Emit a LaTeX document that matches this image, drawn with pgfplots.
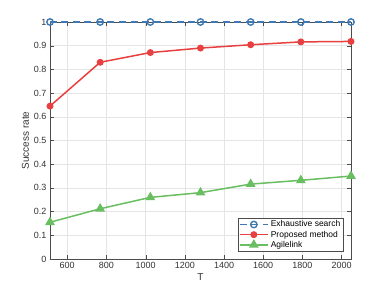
\documentclass[border=0pt]{standalone}
\usepackage{pgfplots}
\pgfplotsset{compat=1.18}
\usepackage{fontspec}
\setmainfont{Liberation Sans}
\definecolor{cblue}{RGB}{64,120,178}
\definecolor{cred}{RGB}{232,64,64}
\definecolor{cgreen}{RGB}{104,190,96}
\begin{document}
\begin{tikzpicture}
\begin{axis}[
  scale only axis, width=301pt, height=237pt,
  xmin=512, xmax=2048, ymin=0, ymax=1,
  xtick={600,800,1000,1200,1400,1600,1800,2000},
  ytick={0,0.1,0.2,0.3,0.4,0.5,0.6,0.7,0.8,0.9,1},
  yticklabels={0,0.1,0.2,0.3,0.4,0.5,0.6,0.7,0.8,0.9,1},
  /pgf/number format/assume math mode=true,
  /pgf/number format/set thousands separator={},
  tick label style={font=\fontsize{9}{10}\selectfont, text=black!80},
  label style={font=\fontsize{10}{11}\selectfont, text=black!80},
  xlabel={T}, ylabel={Success rate},
  xlabel style={yshift=2pt}, ylabel style={yshift=-2pt},
  grid=major, major grid style={black!10},
  tick align=inside, axis line style={black!70}, major tick style={black!70},
  legend style={font=\fontsize{8.5}{9}\selectfont, draw=black!70, at={(0.975,0.03)}, anchor=south east, inner sep=1pt, row sep=-1.5pt},
  legend cell align=left,
  legend image code/.code={\draw[mark repeat=2,mark phase=2] plot coordinates {(0cm,0cm) (0.5cm,0cm) (1.0cm,0cm)};},
]
\addplot[cblue, line width=1.5pt, dash pattern=on 7pt off 4.5pt, mark=o, mark size=3.2pt, mark options={solid, line width=1.4pt}] coordinates {
(512,1) (768,1) (1024,1) (1280,1) (1536,1) (1792,1) (2048,1)};
\addlegendentry{Exhaustive search}
\addplot[cred, line width=1.5pt, mark=*, mark size=2.7pt] coordinates {
(512,0.645) (768,0.83) (1024,0.871) (1280,0.89) (1536,0.904) (1792,0.916) (2048,0.918)};
\addlegendentry{Proposed method}
\addplot[cgreen, line width=1.5pt, mark=triangle*, mark size=4.2pt] coordinates {
(512,0.155) (768,0.212) (1024,0.26) (1280,0.28) (1536,0.316) (1792,0.332) (2048,0.35)};
\addlegendentry{Agilelink}
\end{axis}
\path[use as bounding box] ([xshift=-50pt,yshift=-32pt]current axis.south west) rectangle ++(388pt,291pt);
\end{tikzpicture}
\end{document}
